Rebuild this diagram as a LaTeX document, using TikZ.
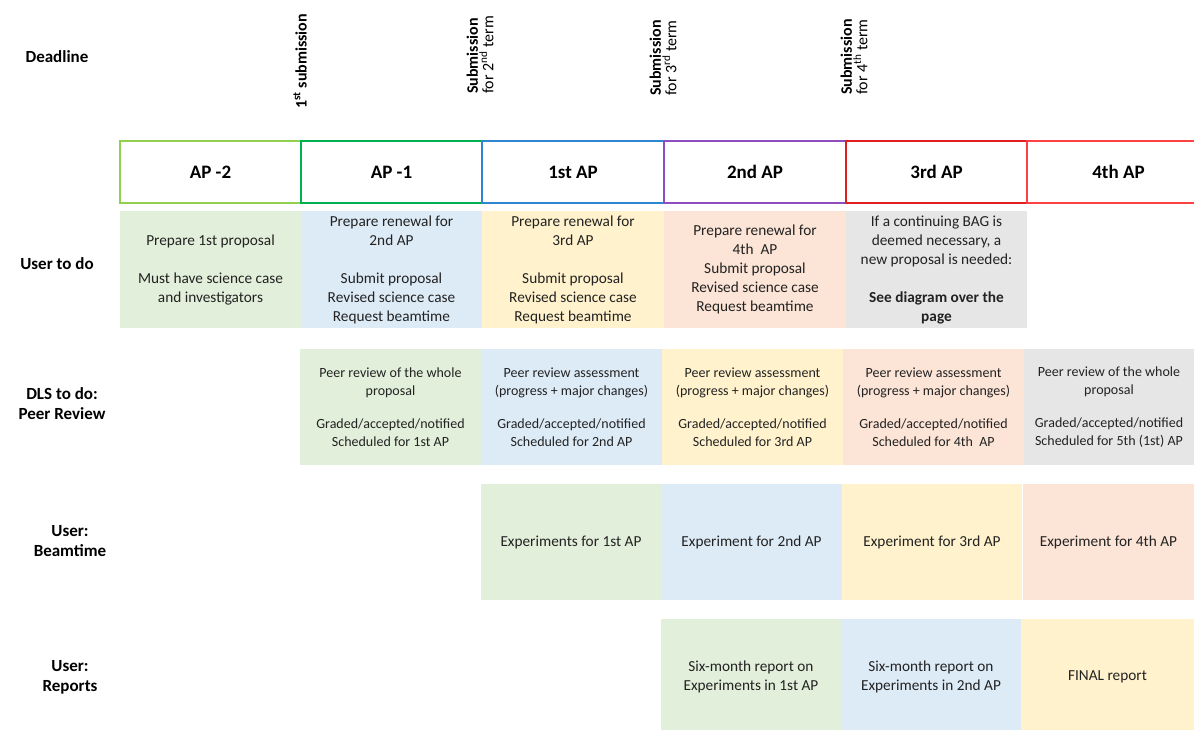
\documentclass[tikz,border=0pt]{standalone}
\usepackage{fontspec}
\setmainfont{Carlito}
\definecolor{cgreen}{HTML}{E2EFDA}
\definecolor{cblue}{HTML}{DDEBF7}
\definecolor{cyellow}{HTML}{FFF2CC}
\definecolor{cpeach}{HTML}{FCE4D6}
\definecolor{cgray}{HTML}{E7E6E6}
\definecolor{bA}{HTML}{92D050}
\definecolor{bB}{HTML}{00B050}
\definecolor{bC}{HTML}{2E86D0}
\definecolor{bD}{HTML}{8E4EC0}
\definecolor{bE}{HTML}{E01E1E}
\definecolor{bF}{HTML}{FF4040}
\definecolor{txt}{HTML}{222222}
\tikzset{
  cellbase/.style={inner sep=0pt, align=center, text=txt, anchor=center},
  bigtext/.style={font=\fontsize{15.3}{19}\selectfont},
  smalltext/.style={font=\fontsize{14}{17.5}\selectfont},
  hdrbox/.style={draw, line width=1.3pt, fill=white, inner sep=0pt, anchor=center, font=\fontsize{19}{22}\selectfont\bfseries},
  rowlabel/.style={align=center, inner sep=0pt, font=\fontsize{17}{20}\selectfont\bfseries},
  dlabel/.style={rotate=90, anchor=west, align=left, inner sep=0pt, font=\fontsize{16}{15.5}\selectfont}
}
\newcommand\mkcell[8]{\node[cellbase,#8,fill=#6,minimum width=#4pt-#2pt,minimum height=#5pt-#3pt] (#1) at ({(#2+#4)/2},{(#3+#5)/2}) {#7};}
\newcommand\mkhdr[5]{\node[hdrbox,draw=#4,minimum width=#3pt-#2pt,minimum height=62pt] (#1) at ({(#2+#3)/2},172) {#5};}
\begin{document}
\begin{tikzpicture}[x=1pt,y=-1pt]
\useasboundingbox (0,0) rectangle (1194,729);
\clip (0,0) rectangle (1194,729);
\fill[white] (0,0) rectangle (1194,729);
% row labels
\node[rowlabel] (ldead) at (57,57) {Deadline};
\node[rowlabel] (luser) at (57,264) {User to do};
\node[rowlabel] (ldls) at (62,404) {DLS to do:\\Peer Review};
\node[rowlabel] (lbeam) at (70,541) {User:\\Beamtime};
\node[rowlabel] (lrep) at (70,677) {User:\\Reports};
% deadlines
\node[dlabel] (d1) at (300,109) {\textbf{1\textsuperscript{st} submission}};
\node[dlabel] (d2) at (480,94) {\textbf{Submission}\\for 2\textsuperscript{nd} term};
\node[dlabel] (d3) at (663,96) {\textbf{Submission}\\for 3\textsuperscript{rd} term};
\node[dlabel] (d4) at (854,95) {\textbf{Submission}\\for 4\textsuperscript{th} term};
% header
\mkhdr{h1}{120}{301}{bA}{AP -2}
\mkhdr{h2}{301}{482}{bB}{AP -1}
\mkhdr{h3}{482}{664}{bC}{1st AP}
\mkhdr{h4}{664}{846}{bD}{2nd AP}
\mkhdr{h5}{846}{1027}{bE}{3rd AP}
\mkhdr{h6}{1027}{1210}{bF}{4th AP}
% row 1: user to do
\mkcell{u1}{120}{211}{301}{328}{cgreen}{Prepare 1st proposal\\[19pt]Must have science case\\and investigators}{bigtext}
\mkcell{u2}{301}{211}{482}{328}{cblue}{Prepare renewal for\\2nd AP\\[19pt]Submit proposal\\Revised science case\\Request beamtime}{bigtext}
\mkcell{u3}{482}{211}{664}{328}{cyellow}{Prepare renewal for\\3rd AP\\[19pt]Submit proposal\\Revised science case\\Request beamtime}{bigtext}
\mkcell{u4}{664}{211}{846}{328}{cpeach}{Prepare renewal for\\4th\ \ AP\\Submit proposal\\Revised science case\\Request beamtime}{bigtext}
\mkcell{u5}{846}{211}{1027}{328}{cgray}{If a continuing BAG is\\deemed necessary, a\\new proposal is needed:\\[19pt]\textbf{See diagram over the}\\\textbf{page}}{bigtext}
% row 2: peer review
\mkcell{p1}{300}{349}{481}{465}{cgreen}{Peer review of the whole\\proposal\\[16pt]Graded/accepted/notified\\Scheduled for 1st AP}{smalltext}
\mkcell{p2}{481}{349}{662}{465}{cblue}{Peer review assessment\\(progress + major changes)\\[16pt]Graded/accepted/notified\\Scheduled for 2nd AP}{smalltext}
\mkcell{p3}{662}{349}{843}{465}{cyellow}{Peer review assessment\\(progress + major changes)\\[16pt]Graded/accepted/notified\\Scheduled for 3rd AP}{smalltext}
\mkcell{p4}{843}{349}{1024}{465}{cpeach}{Peer review assessment\\(progress + major changes)\\[16pt]Graded/accepted/notified\\Scheduled for 4th\ \ AP}{smalltext}
\mkcell{p5}{1024}{349}{1194}{465}{cgray}{Peer review of the whole\\proposal\\[16pt]Graded/accepted/notified\\Scheduled for 5th (1st) AP}{smalltext}
% row 3: beamtime
\mkcell{b1}{481}{484}{661}{600}{cgreen}{Experiments for 1st AP}{bigtext}
\mkcell{b2}{661}{484}{842}{600}{cblue}{Experiment for 2nd AP}{bigtext}
\mkcell{b3}{842}{484}{1022}{600}{cyellow}{Experiment for 3rd AP}{bigtext}
\mkcell{b4}{1023}{484}{1194}{600}{cpeach}{Experiment for 4th AP}{bigtext}
% row 4: reports
\mkcell{r1}{661}{619}{841}{735}{cgreen}{Six-month report on\\Experiments in 1st AP}{bigtext}
\mkcell{r2}{841}{619}{1021}{735}{cblue}{Six-month report on\\Experiments in 2nd AP}{bigtext}
\mkcell{r3}{1021}{619}{1194}{735}{cyellow}{FINAL report}{bigtext}
\end{tikzpicture}
\end{document}
